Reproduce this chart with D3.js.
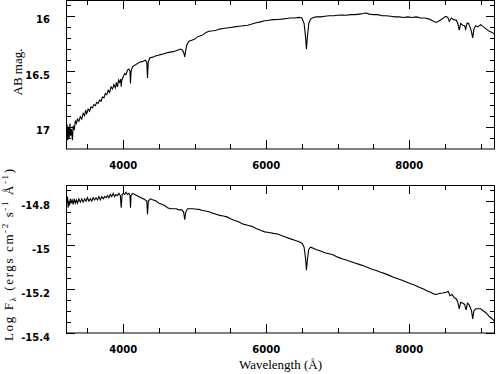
<!DOCTYPE html>
<html>
<head>
<meta charset="utf-8">
<script src="https://cdn.jsdelivr.net/npm/d3@7"></script>
<style>
  body { margin: 0; background: #fff; }
  svg { display: block; }
  .lbl { font-family: "DejaVu Sans", sans-serif; font-size: 10px; font-weight: bold; fill: #000; }
  .title { font-family: "Liberation Serif", serif; font-size: 13px; fill: #000; }
</style>
</head>
<body>
<svg id="chart" width="496" height="374"></svg>
<script>
// spectrum, top panel: AB magnitude
const magWave = [3205, 3215, 3225, 3235, 3245, 3255, 3265, 3275, 3290, 3300, 3315, 3330, 3345, 3360, 3380, 3400, 3420, 3440, 3460, 3475, 3490, 3510, 3530, 3550, 3570, 3590, 3610, 3630, 3650, 3670, 3690, 3710, 3730, 3750, 3770, 3790, 3810, 3830, 3850, 3870, 3890, 3905, 3920, 3935, 3950, 3965, 3972, 3980, 4000, 4020, 4040, 4060, 4080, 4095, 4102, 4110, 4130, 4150, 4175, 4200, 4225, 4250, 4280, 4310, 4330, 4340, 4350, 4370, 4400, 4430, 4460, 4490, 4520, 4560, 4600, 4640, 4680, 4720, 4760, 4800, 4830, 4850, 4861, 4872, 4890, 4920, 4960, 5000, 5040, 5080, 5120, 5160, 5200, 5260, 5300, 5350, 5400, 5450, 5500, 5560, 5620, 5680, 5740, 5800, 5860, 5920, 5980, 6040, 6100, 6160, 6220, 6280, 6340, 6400, 6460, 6500, 6530, 6550, 6563, 6575, 6595, 6620, 6660, 6700, 6760, 6820, 6880, 6940, 7000, 7060, 7120, 7180, 7240, 7300, 7360, 7400, 7440, 7500, 7560, 7620, 7680, 7740, 7800, 7860, 7920, 7980, 8040, 8100, 8160, 8220, 8280, 8340, 8380, 8420, 8470, 8510, 8540, 8560, 8590, 8620, 8660, 8680, 8700, 8720, 8750, 8775, 8790, 8810, 8830, 8850, 8870, 8888, 8905, 8930, 8960, 9000, 9040, 9080, 9120, 9160, 9200];
const magVal = [17.05, 16.98, 17.12, 17.00, 17.10, 16.97, 17.08, 17.02, 17.12, 16.99, 17.03, 16.95, 16.97, 16.93, 16.95, 16.91, 16.93, 16.88, 16.90, 16.85, 16.88, 16.84, 16.86, 16.82, 16.83, 16.80, 16.81, 16.78, 16.79, 16.76, 16.77, 16.73, 16.74, 16.70, 16.71, 16.67, 16.69, 16.64, 16.66, 16.62, 16.65, 16.60, 16.64, 16.58, 16.60, 16.57, 16.64, 16.58, 16.55, 16.52, 16.53, 16.49, 16.48, 16.50, 16.61, 16.50, 16.46, 16.45, 16.44, 16.43, 16.42, 16.415, 16.41, 16.40, 16.42, 16.56, 16.42, 16.38, 16.375, 16.37, 16.36, 16.355, 16.35, 16.345, 16.335, 16.33, 16.325, 16.32, 16.31, 16.30, 16.31, 16.34, 16.37, 16.32, 16.26, 16.23, 16.22, 16.21, 16.19, 16.18, 16.17, 16.15, 16.14, 16.135, 16.13, 16.12, 16.115, 16.11, 16.105, 16.10, 16.095, 16.09, 16.085, 16.075, 16.063, 16.055, 16.045, 16.04, 16.035, 16.033, 16.03, 16.025, 16.02, 16.02, 16.015, 16.02, 16.07, 16.19, 16.30, 16.20, 16.07, 16.03, 16.015, 16.01, 16.01, 16.005, 16.00, 16.00, 15.995, 15.993, 15.995, 15.99, 15.99, 15.985, 15.98, 15.975, 15.985, 15.99, 15.99, 16.00, 16.00, 16.005, 16.01, 16.01, 16.015, 16.01, 16.015, 16.01, 16.02, 16.02, 16.03, 16.05, 16.06, 16.045, 16.025, 16.005, 16.015, 16.05, 16.02, 16.035, 16.04, 16.07, 16.13, 16.07, 16.085, 16.09, 16.12, 16.065, 16.07, 16.10, 16.14, 16.20, 16.12, 16.09, 16.10, 16.08, 16.10, 16.12, 16.14, 16.15, 16.17];

// spectrum, bottom panel: log flux
const fluxWave = [3205, 3215, 3222, 3230, 3240, 3250, 3260, 3272, 3285, 3300, 3315, 3330, 3345, 3360, 3380, 3400, 3420, 3440, 3460, 3480, 3500, 3520, 3540, 3560, 3580, 3600, 3620, 3640, 3660, 3680, 3700, 3720, 3740, 3760, 3780, 3800, 3820, 3840, 3860, 3880, 3900, 3920, 3940, 3960, 3972, 3985, 4000, 4020, 4040, 4060, 4080, 4095, 4102, 4110, 4130, 4160, 4190, 4220, 4250, 4280, 4310, 4330, 4340, 4352, 4380, 4420, 4460, 4500, 4540, 4580, 4620, 4660, 4700, 4740, 4780, 4820, 4845, 4861, 4875, 4900, 4940, 4980, 5020, 5060, 5100, 5150, 5200, 5250, 5300, 5350, 5400, 5450, 5500, 5560, 5620, 5680, 5740, 5800, 5860, 5920, 5980, 6040, 6100, 6160, 6220, 6280, 6340, 6400, 6460, 6500, 6530, 6550, 6563, 6575, 6595, 6620, 6660, 6700, 6760, 6820, 6880, 6940, 7000, 7060, 7120, 7180, 7240, 7300, 7360, 7420, 7480, 7540, 7600, 7660, 7720, 7780, 7840, 7900, 7960, 8020, 8080, 8140, 8200, 8260, 8300, 8340, 8380, 8420, 8470, 8520, 8545, 8570, 8600, 8630, 8660, 8680, 8700, 8720, 8750, 8775, 8795, 8815, 8835, 8855, 8872, 8888, 8905, 8930, 8960, 9000, 9040, 9080, 9120, 9160, 9200];
const fluxVal = [-14.79, -14.81, -14.78, -14.83, -14.80, -14.82, -14.79, -14.81, -14.795, -14.815, -14.79, -14.81, -14.795, -14.81, -14.79, -14.805, -14.79, -14.805, -14.79, -14.80, -14.785, -14.80, -14.79, -14.80, -14.785, -14.795, -14.785, -14.795, -14.78, -14.795, -14.78, -14.79, -14.78, -14.785, -14.775, -14.785, -14.77, -14.78, -14.765, -14.78, -14.77, -14.775, -14.765, -14.775, -14.83, -14.77, -14.765, -14.77, -14.76, -14.77, -14.765, -14.775, -14.83, -14.775, -14.765, -14.77, -14.775, -14.78, -14.785, -14.79, -14.795, -14.80, -14.86, -14.80, -14.79, -14.795, -14.80, -14.81, -14.815, -14.82, -14.83, -14.835, -14.835, -14.835, -14.84, -14.84, -14.85, -14.885, -14.85, -14.835, -14.835, -14.835, -14.837, -14.838, -14.842, -14.845, -14.849, -14.855, -14.86, -14.865, -14.868, -14.872, -14.88, -14.888, -14.895, -14.905, -14.91, -14.915, -14.925, -14.933, -14.94, -14.943, -14.947, -14.95, -14.958, -14.965, -14.972, -14.978, -14.985, -14.992, -15.01, -15.06, -15.115, -15.07, -15.02, -15.01, -15.015, -15.02, -15.027, -15.035, -15.04, -15.045, -15.055, -15.062, -15.068, -15.075, -15.082, -15.088, -15.094, -15.102, -15.11, -15.116, -15.124, -15.13, -15.138, -15.146, -15.153, -15.16, -15.168, -15.176, -15.183, -15.192, -15.20, -15.21, -15.215, -15.222, -15.225, -15.22, -15.218, -15.215, -15.21, -15.23, -15.225, -15.24, -15.245, -15.26, -15.29, -15.26, -15.265, -15.27, -15.295, -15.265, -15.27, -15.285, -15.30, -15.336, -15.30, -15.29, -15.29, -15.29, -15.30, -15.31, -15.325, -15.335, -15.35];

// tick labels
const xTicks = [4000, 6000, 8000];
const magTicks = [16, 16.5, 17];
const fluxTicks = [-14.8, -15, -15.2, -15.4];

const left = 66, right = 495;
const top1 = 0, bot1 = 149;
const top2 = 185, bot2 = 333;
const major = 9, minor = 5;

const svg = d3.select('#chart');

const x = d3.scaleLinear().domain([3200, 9200]).range([left, right]);
const yMag = d3.scaleLinear().domain([15.858, 17.2]).range([top1, bot1]);
const yFlux = d3.scaleLinear().domain([-14.727, -15.4]).range([top2, bot2]);

const xMinor = d3.range(3500, 9200, 500).filter(v => !xTicks.includes(v));
const magMinor = d3.range(159, 172).map(v => v / 10);
const fluxMinor = d3.range(-295, -308, -1).map(v => v / 20);

const px = v => Math.round(v) + 0.5;

function drawPanel(y, yTop, yBot, yMajor, yMinor, wave, vals) {
  const g = svg.append('g');

  // frame
  g.append('rect')
    .attr('x', left + 0.5).attr('y', yTop + 0.5)
    .attr('width', right - left - 1).attr('height', yBot - yTop - 0.5)
    .attr('fill', 'none').attr('stroke', '#000');

  // ticks on all four sides, pointing in
  const p = d3.path();
  xTicks.map(v => [v, major]).concat(xMinor.map(v => [v, minor])).forEach(([v, len]) => {
    const xx = px(x(v));
    p.moveTo(xx, yBot); p.lineTo(xx, yBot - len);
    p.moveTo(xx, yTop); p.lineTo(xx, yTop + len);
  });
  const yMin = yMinor.filter(v => !yMajor.some(m => Math.abs(m - v) < 1e-6));
  yMajor.map(v => [v, major]).concat(yMin.map(v => [v, minor])).forEach(([v, len]) => {
    const yy = px(y(v));
    p.moveTo(left, yy); p.lineTo(left + len, yy);
    p.moveTo(right, yy); p.lineTo(right - len, yy);
  });
  g.append('path')
    .attr('d', p.toString())
    .attr('fill', 'none')
    .attr('stroke', '#000')
    .attr('stroke-width', 1);

  // tick labels
  g.selectAll('text.xl').data(xTicks).join('text')
    .attr('class', 'lbl xl')
    .attr('x', d => x(d)).attr('y', yBot + 20)
    .attr('text-anchor', 'middle')
    .text(d => d);
  g.selectAll('text.yl').data(yMajor).join('text')
    .attr('class', 'lbl yl')
    .attr('x', 50).attr('y', d => y(d) + 7.5)
    .attr('text-anchor', 'end')
    .text(d => String(d));

  // spectrum
  const line = d3.line()
    .x((d, i) => x(wave[i]))
    .y(d => y(d));
  g.append('path')
    .datum(vals)
    .attr('fill', 'none')
    .attr('stroke', '#000')
    .attr('stroke-width', 1.1)
    .attr('d', line);
}

drawPanel(yMag, top1, bot1, magTicks, magMinor, magWave, magVal);
drawPanel(yFlux, top2, bot2, fluxTicks, fluxMinor, fluxWave, fluxVal);

// axis titles
svg.append('text').attr('class', 'title')
  .attr('transform', 'translate(22,72) rotate(-90)')
  .attr('text-anchor', 'middle')
  .text('AB mag.');

const lab = svg.append('text').attr('class', 'title')
  .attr('transform', 'translate(13,255) rotate(-90)')
  .attr('text-anchor', 'middle')
  .attr('font-size', '13px')
  .attr('textLength', 172)
  .attr('lengthAdjust', 'spacing');
lab.append('tspan').text('Log F');
lab.append('tspan').attr('font-size', '9px').attr('dy', 3).text('λ');
lab.append('tspan').attr('dy', -3).text(' (ergs cm');
lab.append('tspan').attr('font-size', '9px').attr('dy', -5).text('-2');
lab.append('tspan').attr('dy', 5).text(' s');
lab.append('tspan').attr('font-size', '9px').attr('dy', -5).text('-1');
lab.append('tspan').attr('dy', 5).text(' Å');
lab.append('tspan').attr('font-size', '9px').attr('dy', -5).text('-1');
lab.append('tspan').attr('dy', 5).text(')');

svg.append('text').attr('class', 'title')
  .attr('x', (left + right) / 2).attr('y', 369)
  .attr('text-anchor', 'middle')
  .attr('font-size', '14px')
  .text('Wavelength (Å)');
</script>
</body>
</html>
